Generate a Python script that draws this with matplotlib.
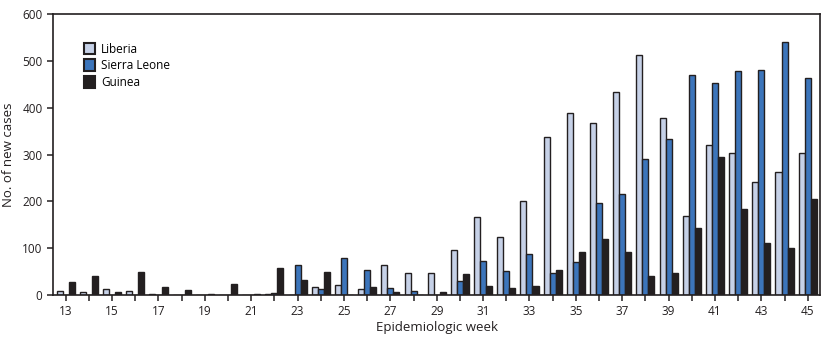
import matplotlib.pyplot as plt
from numpy import arange, array

plt.rcParams["font.family"] = ["Open Sans", "DejaVu Sans"]

semaines = arange(13, 46)
liberia = [8, 6, 13, 8, 2, 0, 0, 0, 0, 3, 0, 18, 22, 13, 65, 48, 48, 96, 166, 124,
           201, 337, 388, 367, 433, 512, 379, 169, 320, 304, 241, 263, 304]
sierra_leone = [0, 0, 0, 0, 0, 0, 0, 0, 0, 5, 63, 13, 78, 54, 15, 9, 0, 29, 73, 51,
                88, 46, 70, 196, 216, 291, 334, 470, 453, 479, 481, 541, 464]
guinee = [28, 41, 7, 49, 17, 11, 2, 24, 3, 58, 31, 50, 0, 18, 7, 0, 7, 45, 20, 14,
          20, 54, 92, 120, 92, 41, 47, 143, 295, 184, 111, 100, 206]
etiquettes = [str(s) for s in semaines[::2]]

couleurs = {"Liberia": "#c6d1e7", "Sierra Leone": "#3c75bb", "Guinea": "#231f20"}
bord = "#231f20"


def figure():
    fig = plt.figure(figsize=(8.31, 3.40), dpi=100)
    ax = fig.add_axes([53 / 831, 45 / 340, 767 / 831, 281 / 340])
    largeur = 0.26
    series = [("Liberia", liberia), ("Sierra Leone", sierra_leone), ("Guinea", guinee)]
    for i, (nom, valeurs) in enumerate(series):
        ax.bar(semaines + (i - 1) * largeur, array(valeurs), largeur,
               color=couleurs[nom], edgecolor=bord, linewidth=1.0, label=nom)

    ax.set_xlim(12.45, 45.53)
    ax.set_ylim(0, 600)
    ax.set_yticks(arange(0, 601, 100))
    ax.set_xticks(semaines[::2])
    ax.set_xticklabels(etiquettes)
    ax.set_xticks(semaines, minor=True)
    ax.tick_params(axis="both", which="both", direction="out", length=4,
                   width=1.1, color=bord, labelsize=8.5, labelcolor="#231f20")
    ax.tick_params(axis="x", which="major", pad=3)
    for s in ax.spines.values():
        s.set_linewidth(1.2)
        s.set_color(bord)

    ax.set_xlabel("Epidemiologic week", fontsize=9.5, labelpad=2, color="#231f20")
    ax.set_ylabel("No. of new cases", fontsize=9.5, labelpad=5, color="#231f20")
    leg = ax.legend(loc="upper left", bbox_to_anchor=(0.034, 0.915), frameon=False,
                    fontsize=8.5, handlelength=0.95, handleheight=1.15,
                    handletextpad=0.5, labelspacing=0.3, borderaxespad=0)
    for h in leg.legend_handles:
        h.set_linewidth(1.5)
    fig.savefig("out.png", dpi=100)


figure()
